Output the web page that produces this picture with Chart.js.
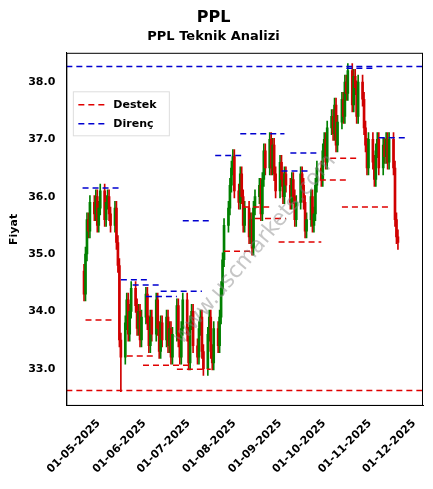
<!DOCTYPE html>
<html><head><meta charset="utf-8">
<script src="https://cdn.jsdelivr.net/npm/chart.js@4"></script>
<style>body{margin:0;background:#fff}#w{width:433px;height:489px}</style></head>
<body><div id="w"><canvas id="c"></canvas></div>
<script>
const startDate = '2025-04-21';
const closes = [
34.3,35.0,35.6,35.4,35.9, 35.7,36.0,35.5,35.8,36.1, 35.6,35.9,36.0,35.7,35.5,
35.8,35.2,34.8,33.5,33.2, 33.8,34.2,33.6,34.0,34.4, 34.1,33.7,34.0,33.5,33.9,
34.3,33.8,33.4,33.9,33.6, 34.2,33.7,33.3,33.8,33.5, 33.9,33.4,33.7,33.2,33.6,
34.1,33.5,33.2,33.7,34.2, 33.6,33.1,33.8,34.0,33.4, 33.2,33.7,33.9,33.3,33.0,
33.6,33.9,33.3,33.1,33.7, 33.4,33.9,34.4,34.9,35.5, 35.8,36.2,36.5,36.7,36.1,
35.9,36.4,36.0,35.5,35.8, 35.3,35.6,35.1,35.8,36.0, 36.2,35.7,36.3,36.8,36.5,
37.0,36.5,36.9,36.4,36.1, 36.6,36.3,36.0,36.4,36.2, 35.9,36.3,36.0,35.6,35.9,
36.4,36.2,35.9,35.4,35.6, 36.0,35.5,35.7,36.2,36.5, 36.3,36.8,37.0,36.6,37.2,
37.4,37.1,37.6,36.9,37.3, 37.7,37.4,38.0,37.8,38.2, 37.6,38.1,37.9,37.4,38.0,
37.7,37.2,36.9,36.5,37.0, 36.6,36.3,36.8,37.0,36.5, 36.9,36.7,37.0,36.6,37.0,
36.5,35.6,35.3,35.2];
const firstOpen = 34.7;
const lowOverrides = {19: 32.6};
const supports = [
 [33.85,'2025-04-22','2025-05-11'],[33.22,'2025-05-20','2025-06-08'],[33.06,'2025-05-31','2025-07-04'],
 [32.99,'2025-06-23','2025-07-16'],[35.05,'2025-07-25','2025-08-13'],[35.82,'2025-08-07','2025-08-26'],
 [35.62,'2025-08-15','2025-09-05'],[35.21,'2025-08-31','2025-09-29'],[36.29,'2025-09-28','2025-10-17'],
 [36.67,'2025-10-05','2025-10-25'],[35.82,'2025-10-13','2025-11-14'],[32.62,'2025-04-09','2025-12-07']];
const resists = [
 [36.15,'2025-04-20','2025-05-15'],[34.55,'2025-05-16','2025-06-04'],[34.46,'2025-05-24','2025-06-12'],
 [34.26,'2025-06-02','2025-06-23'],[34.35,'2025-06-12','2025-07-10'],[35.58,'2025-06-27','2025-07-17'],
 [36.72,'2025-07-19','2025-08-06'],[37.10,'2025-08-05','2025-09-04'],[36.45,'2025-09-02','2025-09-20'],
 [36.76,'2025-09-08','2025-09-26'],[38.24,'2025-10-16','2025-11-04'],[37.03,'2025-11-07','2025-11-26'],
 [38.27,'2025-04-09','2025-12-07']];
const tickDates = ['2025-05-01','2025-06-01','2025-07-01','2025-08-01','2025-09-01','2025-10-01','2025-11-01','2025-12-01'];
const yTicks = [33,34,35,36,37,38];

const t = s => Date.parse(s+'T00:00:00Z');
const DAY = 864e5;
let d = t(startDate), dates=[];
while (dates.length < closes.length){ const wd=new Date(d).getUTCDay(); if(wd!==0&&wd!==6) dates.push(d); d+=DAY; }
const bodies=[], wicks=[], cols=[];
closes.forEach((c,i)=>{
  const o = i===0?firstOpen:closes[i-1];
  const hi=Math.max(o,c)+0.12, lo=(lowOverrides[i]!==undefined)?lowOverrides[i]:Math.min(o,c)-0.12;
  bodies.push({x:dates[i],y:[o,c]}); wicks.push({x:dates[i],y:[lo,hi]});
  cols.push(c>=o?'#008000':'#d00000');
});
const segs=[];
supports.forEach(s=>segs.push({label:'Destek',type:'line',data:[{x:t(s[1]),y:s[0]},{x:t(s[2]),y:s[0]}],borderColor:'#e00000',borderDash:[6,4],borderWidth:1.5,pointRadius:0}));
resists.forEach(s=>segs.push({label:'Direnç',type:'line',data:[{x:t(s[1]),y:s[0]},{x:t(s[2]),y:s[0]}],borderColor:'#0000d0',borderDash:[6,4],borderWidth:1.5,pointRadius:0}));

const overlay={id:'ov',afterDraw(ch){
  const {ctx,chartArea:a}=ch;
  ctx.save();
  ctx.translate((a.left+a.right)/2+10,(a.top+a.bottom)/2+20); ctx.rotate(-Math.PI/3.6);
  ctx.font='22px "DejaVu Sans"'; ctx.fillStyle='rgba(128,128,128,0.45)'; ctx.textAlign='center'; ctx.textBaseline='middle';
  ctx.fillText('www.uscmarkets.com',0,0); ctx.restore();
  ctx.save();
  ctx.strokeStyle='#000'; ctx.lineWidth=1; ctx.strokeRect(a.left+0.5,a.top+0.5,a.right-a.left-1,a.bottom-a.top-1);
  const lx=a.left+7, ly=a.top+39;
  ctx.fillStyle='rgba(255,255,255,0.85)'; ctx.strokeStyle='#ddd'; ctx.fillRect(lx,ly,96,44); ctx.strokeRect(lx,ly,96,44);
  ctx.lineWidth=1.5; ctx.setLineDash([6,4]);
  [['Destek','#e00000',13],['Direnç','#0000d0',32]].forEach(([l,c,dy])=>{
    ctx.strokeStyle=c; ctx.beginPath(); ctx.moveTo(lx+5,ly+dy); ctx.lineTo(lx+32,ly+dy); ctx.stroke();
    ctx.fillStyle='#000'; ctx.font='bold 11px "DejaVu Sans"'; ctx.textBaseline='middle'; ctx.fillText(l,lx+40,ly+dy);
  });
  ctx.restore();
}};

new Chart(document.getElementById('c'),{
  type:'bar',
  data:{datasets:[
    {label:'w',data:wicks,backgroundColor:cols,barThickness:1,grouped:false,order:2},
    {label:'b',data:bodies,backgroundColor:cols,barThickness:2,grouped:false,order:1},
    ...segs]},
  options:{responsive:true,maintainAspectRatio:false,animation:false,
    layout:{padding:{left:4,right:10,top:2,bottom:10}},
    plugins:{legend:{display:false},tooltip:{enabled:false},
      title:{display:true,text:'PPL',font:{size:16,weight:'bold',family:'DejaVu Sans'},color:'#000',padding:{top:6,bottom:2}},
      subtitle:{display:true,text:'PPL Teknik Analizi',font:{size:13,weight:'bold',family:'DejaVu Sans'},color:'#000',padding:{bottom:8}}},
    scales:{
      x:{type:'linear',min:t('2025-04-09'),max:t('2025-12-07'),offset:false,grid:{display:false},
        border:{color:'#000'},
        afterBuildTicks(ax){ax.ticks=tickDates.map(s=>({value:t(s)}));},
        ticks:{color:'#000',maxRotation:45,minRotation:45,font:{size:11,weight:'bold',family:'DejaVu Sans'},
          callback(v){const dt=new Date(v);return String(dt.getUTCDate()).padStart(2,'0')+'-'+String(dt.getUTCMonth()+1).padStart(2,'0')+'-'+dt.getUTCFullYear();}}},
      y:{min:32.35,max:38.51,grid:{display:false},border:{color:'#000'},
        afterBuildTicks(ax){ax.ticks=yTicks.map(v=>({value:v}));},
        title:{display:true,text:'Fiyat',color:'#000',font:{size:11,weight:'bold',family:'DejaVu Sans'}},
        ticks:{color:'#000',font:{size:11,weight:'bold',family:'DejaVu Sans'},callback:v=>v.toFixed(1)}}
    }},
  plugins:[overlay]
});
</script></body></html>
